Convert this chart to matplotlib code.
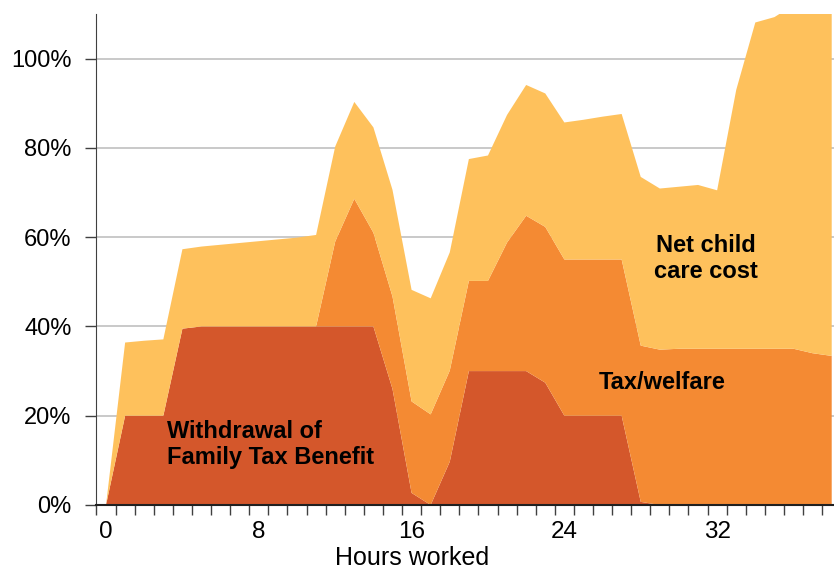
import matplotlib.pyplot as plt
from matplotlib.ticker import FixedLocator, FuncFormatter

# hours worked (one category per hour)
hours = list(range(0, 39))

# layer values in percent of extra earnings
withdrawal = [0, 20, 20, 20, 39.5, 40, 40, 40, 40, 40,
              40, 40, 40, 40, 40, 26, 2.7, 0, 9.7, 30,
              30, 30, 30, 27.4, 20, 20, 20, 20, 0.7, 0,
              0, 0, 0, 0, 0, 0, 0, 0, 0]
tax_welfare = [0, 0, 0, 0, 0, 0, 0, 0, 0, 0,
               0, 0, 19, 28.6, 21, 20.7, 20.5, 20.3, 20.4, 20.2,
               20.2, 28.8, 34.8, 34.9, 35, 35, 35, 35, 35, 34.8,
               35, 35, 35, 35, 35, 35, 35, 34, 33.4]
child_care = [0, 16.4, 16.8, 17.1, 17.8, 17.9, 18.3, 18.7, 19.1, 19.5,
              19.9, 20.5, 21.3, 21.7, 23.6, 23.9, 25.0, 26.0, 26.5, 27.3,
              28.1, 28.6, 29.3, 29.9, 30.7, 31.3, 32.0, 32.6, 37.8, 36.1,
              36.3, 36.7, 35.5, 58.0, 73.1, 74.3, 77, 79, 79.6]

x_labels = ['0', '8', '16', '24', '32']
x_label_pos = [0, 8, 16, 24, 32]
y_ticks = [0, 20, 40, 60, 80, 100]

colors = ['#D4572B', '#F48A33', '#FEC15C']

plt.rcParams['font.family'] = ['Liberation Sans', 'DejaVu Sans']

fig = plt.figure(figsize=(8.34, 5.69), dpi=100)
ax = fig.add_axes([0.1157, 0.1125, 0.8843, 0.8629])

ax.stackplot(hours, withdrawal, tax_welfare, child_care,
             colors=colors, linewidth=0)

ax.set_xlim(-0.5, 38.12)
ax.set_ylim(0, 110)

# gridlines behind the areas
ax.set_axisbelow(True)
ax.yaxis.grid(True, color='#C0C0C0', linewidth=1.2)
ax.set_yticks(y_ticks)
ax.yaxis.set_major_formatter(FuncFormatter(lambda v, p: '%d%%' % v))
ax.tick_params(axis='y', length=8, width=1, color='#404040',
               labelsize=17, pad=10)

# labels sit between the tick marks, like a category axis
ax.xaxis.set_major_locator(FixedLocator(x_label_pos))
ax.set_xticklabels(x_labels)
ax.xaxis.set_minor_locator(FixedLocator([h - 0.5 for h in hours]))
ax.tick_params(axis='x', which='major', length=0, labelsize=17.5, pad=11.5)
ax.tick_params(axis='x', which='minor', length=7, width=1,
               color='#404040')

ax.set_xlabel('Hours worked', fontsize=18, labelpad=0)
ax.xaxis.set_label_coords(0.428, -0.083)

for side in ['top', 'right']:
    ax.spines[side].set_visible(False)
ax.spines['left'].set_color('#404040')
ax.spines['bottom'].set_color('#202020')
ax.spines['bottom'].set_linewidth(1.5)

# labels of the areas
ax.text(3.2, 13.5, 'Withdrawal of\nFamily Tax Benefit', fontsize=17,
        fontweight='bold', ha='left', va='center', linespacing=1.15)
ax.text(31.4, 55.3, 'Net child\ncare cost', fontsize=17,
        fontweight='bold', ha='center', va='center', linespacing=1.15)
ax.text(29.1, 27.5, 'Tax/welfare', fontsize=17, fontweight='bold',
        ha='center', va='center')

plt.savefig('out.png', dpi=100)
plt.close()
